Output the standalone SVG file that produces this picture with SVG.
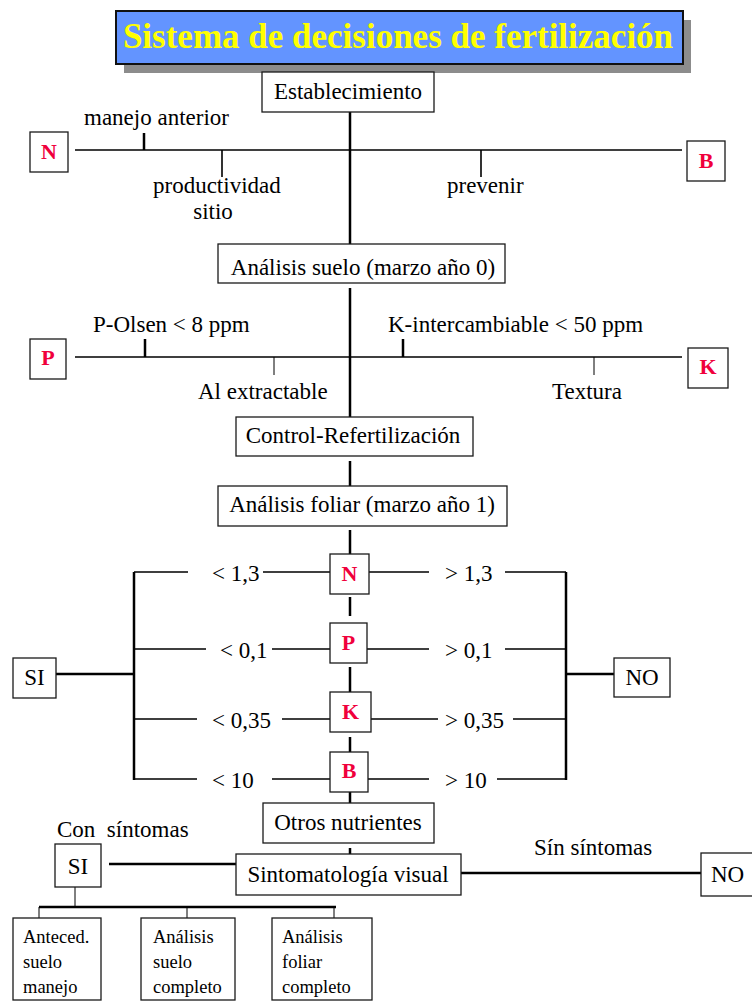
<svg xmlns="http://www.w3.org/2000/svg" width="752" height="1001" viewBox="0 0 752 1001">
<style>
.bx{fill:#fff;stroke:#1a1a1a;stroke-width:1.3}
.t{font-family:"Liberation Serif","Times New Roman",serif;font-size:23px;fill:#000}
.s{font-family:"Liberation Serif","Times New Roman",serif;font-size:18.5px;fill:#000}
.r{font-family:"Liberation Serif","Times New Roman",serif;font-size:22px;font-weight:bold;fill:#f0003c}
.c{text-anchor:middle}
.th{stroke:#000;stroke-width:2.5;fill:none}
.md{stroke:#000;stroke-width:1.6;fill:none}
.tn{stroke:#000;stroke-width:1;fill:none}
</style>
<rect width="752" height="1001" fill="#fff"/>
<g id="title">
<rect x="124" y="20" width="567" height="53" fill="#8c8c8c"/>
<rect x="116" y="11" width="567" height="53" fill="#6394ff" stroke="#111" stroke-width="2"/>
<text x="398" y="48" class="c" style="font-family:'Liberation Serif','Times New Roman',serif;font-size:35px;font-weight:bold;fill:#ffff00">Sistema de decisiones de fertilización</text>
</g>
<g id="connectors">
<path class="th" d="M350 112V244M350 288V417M350 461V486M350 530V556M350 597V616M350 667V693M350 737V753M350 786V803M350 848V857"/>
<path class="md" d="M75 150H682M75 357H682"/>
<path class="th" d="M144 133V150M145 339V357M403 339V357"/>
<path class="md" d="M222 150V177M481 150V177"/>
<path class="tn" d="M274 357V375M594 357V375"/>
<path class="th" d="M134 572V780M566 572V780M56 674H134M566 674H614"/>
<path class="md" d="M134 572H188M263 572H332M367 572H429M505 572H566"/>
<path class="md" d="M134 649H206M272 649H333M367 649H429M505 649H566"/>
<path class="md" d="M134 719H197M282 719H332M371 719H438M513 719H566"/>
<path class="md" d="M134 779H197M272 779H333M368 779H429M497 779H566"/>
<path class="th" d="M109 864H236M461 873H701M39 907H336"/>
<path class="tn" d="M75 887V907M39 907V918M187 907V918M334 907V918"/>
</g>
<g id="establecimiento"><rect class="bx" x="262" y="72" width="172" height="40"/><text class="t c" x="348" y="99">Establecimiento</text></g>
<g id="n-top"><rect class="bx" x="30" y="132" width="38" height="40"/><text class="r c" x="49" y="159">N</text></g>
<g id="b-top"><rect class="bx" x="687" y="141" width="38" height="40"/><text class="r c" x="706" y="168">B</text></g>
<g id="labels-nb">
<text class="t" x="84" y="125">manejo anterior</text>
<text class="t" x="153" y="193">productividad</text>
<text class="t c" x="213" y="219">sitio</text>
<text class="t" x="447" y="193">prevenir</text>
</g>
<g id="analisis-suelo"><rect class="bx" x="218" y="244" width="287" height="39"/><text class="t c" x="363" y="275">Análisis suelo (marzo año 0)</text></g>
<g id="p-top"><rect class="bx" x="30" y="339" width="36" height="40"/><text class="r c" x="48" y="365">P</text></g>
<g id="k-top"><rect class="bx" x="688" y="348" width="40" height="40"/><text class="r c" x="708" y="374">K</text></g>
<g id="labels-pk">
<text class="t" x="93" y="332">P-Olsen &lt; 8 ppm</text>
<text class="t" x="388" y="332">K-intercambiable &lt; 50 ppm</text>
<text class="t" x="198" y="399">Al extractable</text>
<text class="t" x="552" y="399">Textura</text>
</g>
<g id="control"><rect class="bx" x="236" y="417" width="237" height="39"/><text class="t c" x="353" y="443">Control-Refertilización</text></g>
<g id="analisis-foliar"><rect class="bx" x="218" y="486" width="289" height="40"/><text class="t c" x="362" y="512">Análisis foliar (marzo año 1)</text></g>
<g id="n-mid"><rect class="bx" x="330" y="554" width="39" height="40"/><text class="r c" x="349.5" y="581">N</text></g>
<g id="p-mid"><rect class="bx" x="330" y="623" width="37" height="40"/><text class="r c" x="348.5" y="650">P</text></g>
<g id="k-mid"><rect class="bx" x="330" y="692" width="41" height="40"/><text class="r c" x="350.5" y="719">K</text></g>
<g id="b-mid"><rect class="bx" x="330" y="752" width="38" height="40"/><text class="r c" x="349" y="778">B</text></g>
<g id="thresholds">
<text class="t" x="212" y="581">&lt; 1,3</text>
<text class="t" x="220" y="658">&lt; 0,1</text>
<text class="t" x="212" y="728">&lt; 0,35</text>
<text class="t" x="212" y="788">&lt; 10</text>
<text class="t" x="445" y="581">&gt; 1,3</text>
<text class="t" x="445" y="658">&gt; 0,1</text>
<text class="t" x="445" y="728">&gt; 0,35</text>
<text class="t" x="445" y="788">&gt; 10</text>
</g>
<g id="si-mid"><rect class="bx" x="13" y="658" width="43" height="40"/><text class="t c" x="34.5" y="685">SI</text></g>
<g id="no-mid"><rect class="bx" x="614" y="658" width="56" height="39"/><text class="t c" x="642" y="685">NO</text></g>
<g id="otros"><rect class="bx" x="263" y="803" width="171" height="40"/><text class="t c" x="348" y="830">Otros nutrientes</text></g>
<g id="sintomatologia"><rect class="bx" x="236" y="854" width="225" height="41"/><text class="t c" x="348" y="882">Sintomatología visual</text></g>
<g id="sintoma-labels">
<text class="t" x="57" y="837" style="white-space:pre">Con  síntomas</text>
<text class="t" x="534" y="855">Sín síntomas</text>
</g>
<g id="si-bottom"><rect class="bx" x="55" y="844" width="46" height="43"/><text class="t c" x="78" y="874">SI</text></g>
<g id="no-bottom"><rect class="bx" x="701" y="853" width="56" height="43"/><text class="t" x="711" y="882">NO</text></g>
<g id="anteced"><rect class="bx" x="13" y="918" width="88" height="82"/><text class="s" x="23" y="943">Anteced.</text><text class="s" x="23" y="968">suelo</text><text class="s" x="23" y="993">manejo</text></g>
<g id="analisis-suelo-completo"><rect class="bx" x="141" y="918" width="94" height="82"/><text class="s" x="153" y="943">Análisis</text><text class="s" x="153" y="968">suelo</text><text class="s" x="153" y="993">completo</text></g>
<g id="analisis-foliar-completo"><rect class="bx" x="272" y="918" width="100" height="82"/><text class="s" x="282" y="943">Análisis</text><text class="s" x="282" y="968">foliar</text><text class="s" x="282" y="993">completo</text></g>
</svg>
